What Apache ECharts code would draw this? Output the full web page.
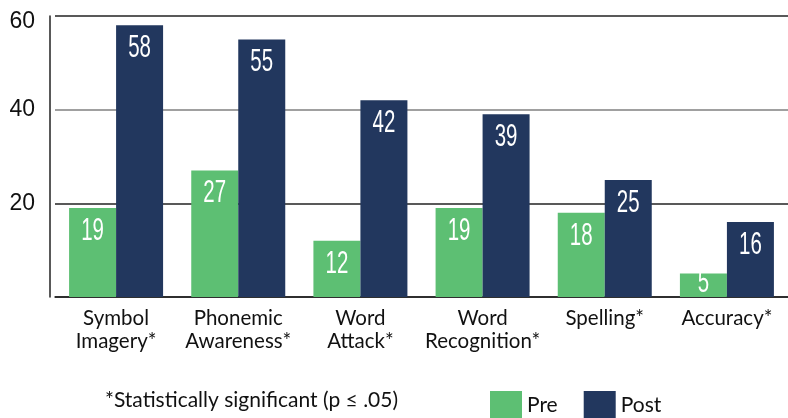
<!DOCTYPE html>
<html>
<head>
<meta charset="utf-8">
<script src="https://cdn.jsdelivr.net/npm/echarts@6/dist/echarts.min.js"></script>
<style>
  html, body { margin: 0; padding: 0; background: #fff; }
  #chart { width: 788px; height: 418px; }
</style>
</head>
<body>
<div id="chart"></div>
<script>
// data
var categories = ['Symbol\nImagery*', 'Phonemic\nAwareness*', 'Word\nAttack*', 'Word\nRecognition*', 'Spelling*', 'Accuracy*'];
var preValues = [19, 27, 12, 19, 18, 5];
var postValues = [58, 55, 42, 39, 25, 16];
var yTicks = [0, 20, 40, 60];

var green = '#5dbf73';
var navy = '#22375e';
var font = 'Lato, "DejaVu Sans", sans-serif';
var barW = 47;

var myChart = echarts.init(document.getElementById('chart'));

// value labels drawn narrow (condensed look) on top of the bars
function labelSeries(values, side) {
    return {
        type: 'custom',
        coordinateSystem: 'cartesian2d',
        silent: true,
        z: 5,
        data: values.map(function (v, i) { return [i, v]; }),
        renderItem: function (params, api) {
            var top = api.coord([api.value(0), api.value(1)]);
            var base = api.coord([api.value(0), 0]);
            var x = top[0] + side * barW / 2;
            var y = Math.min(top[1] + 23, base[1] - 14);
            return {
                type: 'text',
                x: x, y: y,
                scaleX: 0.64,
                style: {
                    text: String(api.value(1)),
                    fill: '#fff',
                    fontSize: 32,
                    fontWeight: 500,
                    fontFamily: '"Liberation Sans", Arial, sans-serif',
                    align: 'center',
                    verticalAlign: 'middle'
                }
            };
        }
    };
}

option = {
    animation: false,
    grid: { left: 55, right: -6, top: 16, bottom: 121 },
    legend: {
        left: 485,
        top: 386,
        itemWidth: 32,
        itemHeight: 28,
        itemGap: 26,
        icon: 'rect',
        textStyle: { fontSize: 21, color: '#111', fontFamily: font },
        data: ['Pre', 'Post']
    },
    xAxis: {
        type: 'category',
        data: categories,
        axisLine: { lineStyle: { color: '#222', width: 1.5 } },
        axisTick: { show: false },
        axisLabel: { fontSize: 20.5, color: '#111', fontFamily: font, margin: 10, lineHeight: 23, interval: 0 }
    },
    yAxis: {
        type: 'value',
        min: yTicks[0],
        max: yTicks[yTicks.length - 1],
        interval: 20,
        offset: 5,
        axisLine: { show: true, lineStyle: { color: '#222', width: 1.5 } },
        axisTick: { show: false },
        splitLine: { lineStyle: { color: ['#222', '#222', '#808080', '#222'], width: 1.5 } },
        axisLabel: {
            fontSize: 23, color: '#111', fontFamily: '"Liberation Sans", Arial, sans-serif', margin: 15,
            formatter: function (v) {
                if (v === 0) return '';
                return v === 60 ? '{top|' + v + '}' : String(v);
            },
            rich: { top: { fontSize: 23, color: '#111', fontFamily: '"Liberation Sans", Arial, sans-serif', padding: [12, 0, 0, 0] } }
        }
    },
    graphic: [{
        type: 'text',
        left: 105,
        top: 390,
        style: { text: '*Statistically significant (p ≤ .05)', fontSize: 21, fill: '#111', fontFamily: font }
    }],
    series: [
        {
            name: 'Pre', type: 'bar', data: preValues,
            barWidth: barW, barGap: '0%',
            itemStyle: { color: green }
        },
        {
            name: 'Post', type: 'bar', data: postValues,
            barWidth: barW,
            itemStyle: { color: navy }
        },
        labelSeries(preValues, -1),
        labelSeries(postValues, 1)
    ]
};
myChart.setOption(option);
</script>
</body>
</html>
